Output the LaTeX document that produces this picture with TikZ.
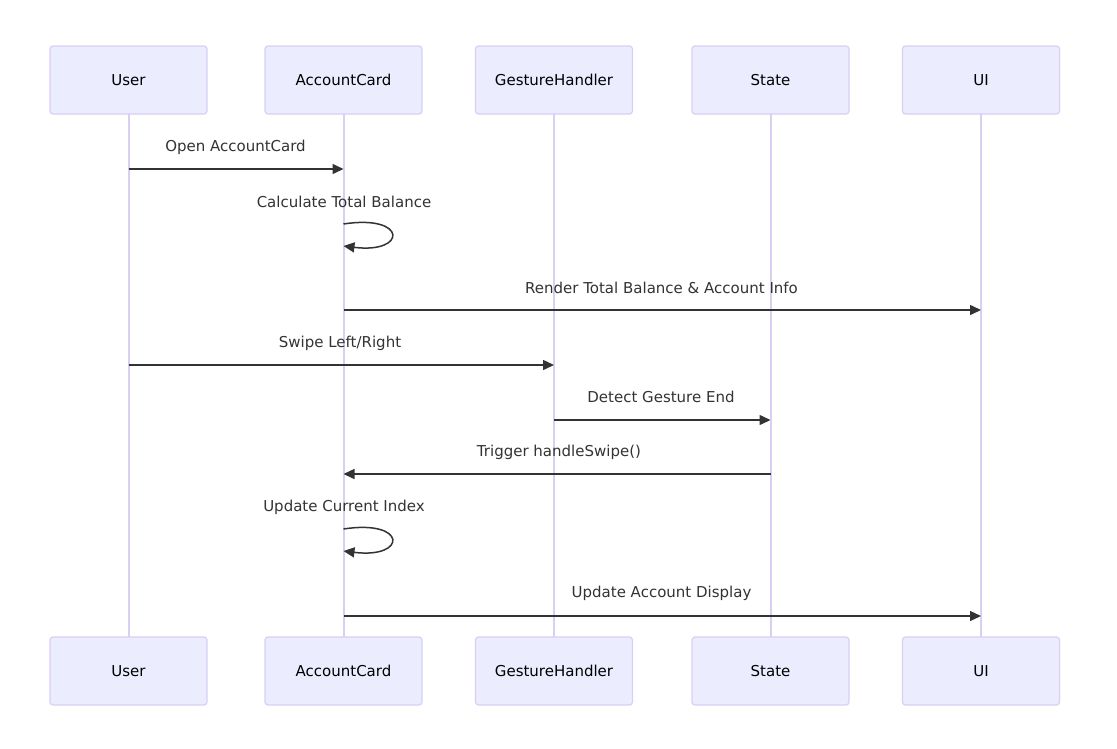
\documentclass[tikz,border=0pt]{standalone}
\usepackage{fontspec}
\setmainfont{DejaVu Sans}
\usetikzlibrary{arrows.meta,calc}
\definecolor{actfill}{HTML}{ECECFF}
\definecolor{actline}{HTML}{DACEF3}
\definecolor{msg}{HTML}{333333}
\tikzset{
  actor/.style={draw=actline, fill=actfill, line width=1.2pt, rounded corners=3pt,
    minimum width=157pt, minimum height=68pt, inner sep=0pt, font=\fontsize{15}{18}\selectfont, text=black},
  life/.style={draw=actline, line width=2pt},
  msgline/.style={draw=msg, line width=1.5pt, -{Triangle[length=11pt,width=10pt]}},
  msglabel/.style={font=\fontsize{15}{18}\selectfont, text=msg, inner sep=0pt}
}
\begin{document}
\begin{tikzpicture}[x=1pt,y=-1pt]
\useasboundingbox (0,0) rectangle (1117,748);
\fill[white] (0,0) rectangle (1117,748);
% lifelines first
\foreach \xx in {128.5,343.5,554,770.5,981}{
  \draw[life] (\xx,114) -- (\xx,637);
}
% top actors
\node[actor] (uT) at (128.5,80) {User};
\node[actor] (aT) at (343.5,80) {AccountCard};
\node[actor] (gT) at (554,80) {GestureHandler};
\node[actor] (sT) at (770.5,80) {State};
\node[actor] (iT) at (981,80) {UI};
% bottom actors
\node[actor] (uB) at (128.5,671) {User};
\node[actor] (aB) at (343.5,671) {AccountCard};
\node[actor] (gB) at (554,671) {GestureHandler};
\node[actor] (sB) at (770.5,671) {State};
\node[actor] (iB) at (981,671) {UI};
% message anchor coordinates
\coordinate (u1) at (uT.center |- 0,169);
\coordinate (a1) at (aT.center |- 0,169);
\coordinate (a3) at (aT.center |- 0,310);
\coordinate (i3) at (iT.center |- 0,310);
\coordinate (u4) at (uT.center |- 0,365);
\coordinate (g4) at (gT.center |- 0,365);
\coordinate (g5) at (gT.center |- 0,420);
\coordinate (s5) at (sT.center |- 0,420);
\coordinate (s6) at (sT.center |- 0,474);
\coordinate (a6) at (aT.center |- 0,474);
\coordinate (a8) at (aT.center |- 0,616);
\coordinate (i8) at (iT.center |- 0,616);
\coordinate (l2a) at (aT.center |- 0,224);
\coordinate (l2b) at (aT.center |- 0,246);
\coordinate (l7a) at (aT.center |- 0,529);
\coordinate (l7b) at (aT.center |- 0,551);
% messages
\draw[msgline] (u1) -- (a1);
\node[msglabel] (m1) at (235.5,147) {Open AccountCard};
\draw[msgline] (l2a) .. controls ($(l2a)+(64,-10)$) and ($(l2a)+(64,30)$) .. (l2b);
\node[msglabel] (m2) at (344,202) {Calculate Total Balance};
\draw[msgline] (a3) -- (i3);
\node[msglabel] (m3) at (661.5,288) {Render Total Balance \& Account Info};
\draw[msgline] (u4) -- (g4);
\node[msglabel] (m4) at (340,343) {Swipe Left/Right};
\draw[msgline] (g5) -- (s5);
\node[msglabel] (m5) at (661,397) {Detect Gesture End};
\draw[msgline] (s6) -- (a6);
\node[msglabel] (m6) at (559,452) {Trigger handleSwipe()};
\draw[msgline] (l7a) .. controls ($(l7a)+(64,-10)$) and ($(l7a)+(64,30)$) .. (l7b);
\node[msglabel] (m7) at (344,507) {Update Current Index};
\draw[msgline] (a8) -- (i8);
\node[msglabel] (m8) at (661.5,593) {Update Account Display};
\end{tikzpicture}
\end{document}
